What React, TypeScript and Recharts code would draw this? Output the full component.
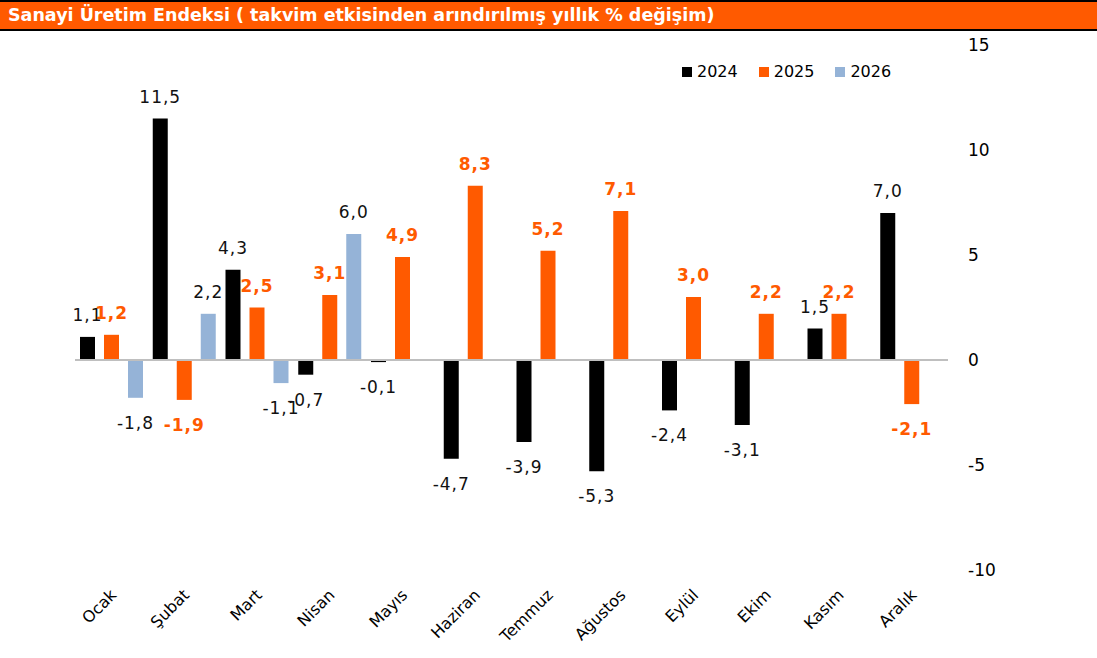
import { Bar, BarChart, ReferenceLine, XAxis, YAxis } from "recharts"

const months = ["Ocak", "Şubat", "Mart", "Nisan", "Mayıs", "Haziran", "Temmuz", "Ağustos", "Eylül", "Ekim", "Kasım", "Aralık"]
const values2024 = [1.1, 11.5, 4.3, -0.7, -0.1, -4.7, -3.9, -5.3, -2.4, -3.1, 1.5, 7.0]
const values2025 = [1.2, -1.9, 2.5, 3.1, 4.9, 8.3, 5.2, 7.1, 3.0, 2.2, 2.2, -2.1]
const values2026 = [-1.8, 2.2, -1.1, 6.0, null, null, null, null, null, null, null, null]
const yTicks = [-10, -5, 0, 5, 10, 15]

const BLACK = "#000000"
const ORANGE = "#FF5A00"
const BLUE = "#95B3D7"
const FONT = "'DejaVu Sans', Verdana, sans-serif"

const chartData = months.map((month, i) => ({
  month,
  y2024: values2024[i],
  y2025: values2025[i],
  y2026: values2026[i],
}))

const fmt = (v: number) => v.toFixed(1).replace(".", ",")

// label above positive bars, below negative ones
const makeLabel = (color: string, bold: boolean) => (props: any) => {
  const { x, y, width, height, value } = props
  if (value === null || value === undefined) return null
  const top = Math.min(y, y + height)
  const bottom = Math.max(y, y + height)
  const ty = value >= 0 ? top - 16 : bottom + 31
  return (
    <text
      x={x + width / 2}
      y={ty}
      textAnchor="middle"
      fill={color}
      fontSize={17}
      fontWeight={bold ? "bold" : "normal"}
      fontFamily={FONT}
      letterSpacing={1}
    >
      {fmt(value)}
    </text>
  )
}

const MonthTick = ({ x, payload }: any) => (
  <g transform={`translate(${x + 6},${596})`}>
    <text textAnchor="end" transform="rotate(-45)" fontSize={16} fontFamily={FONT} fill="#000">
      {payload.value}
    </text>
  </g>
)

const legendItems = [
  { name: "2024", color: BLACK },
  { name: "2025", color: ORANGE },
  { name: "2026", color: BLUE },
]

export default function App() {
  return (
    <div style={{ position: "fixed", top: 0, left: 0, width: 1097, height: 658, background: "#fff", overflow: "hidden" }}>
      <div
        style={{
          position: "absolute",
          top: 0,
          left: 0,
          width: 1097,
          height: 27,
          background: ORANGE,
          borderTop: "2px solid #000",
          borderBottom: "2px solid #000",
          color: "#fff",
          fontFamily: FONT,
          fontWeight: "bold",
          fontSize: 17.5,
          lineHeight: "27px",
          paddingLeft: 8,
          boxSizing: "content-box",
          zIndex: 2,
        }}
      >
        Sanayi Üretim Endeksi ( takvim etkisinden arındırılmış yıllık % değişim)
      </div>
      <div
        style={{
          position: "absolute",
          top: 62,
          left: 682,
          display: "flex",
          alignItems: "center",
          fontFamily: FONT,
          fontSize: 16,
          color: "#000",
          zIndex: 2,
        }}
      >
        {legendItems.map((item) => (
          <div key={item.name} style={{ display: "flex", alignItems: "center", marginRight: 21 }}>
            <span style={{ width: 10, height: 10, background: item.color, display: "inline-block", marginRight: 5 }} />
            <span>{item.name}</span>
          </div>
        ))}
      </div>
      <div style={{ position: "absolute", top: 0, left: 0 }}>
        <BarChart
          width={1097}
          height={658}
          data={chartData}
          margin={{ top: 45, right: 89, left: 75, bottom: 8 }}
          barGap={9}
          barCategoryGap={5}
        >
          <XAxis dataKey="month" axisLine={false} tickLine={false} interval={0} height={80} tick={<MonthTick />} />
          <YAxis
            orientation="right"
            domain={[-10, 15]}
            ticks={yTicks}
            axisLine={false}
            tickLine={false}
            tickMargin={14}
            width={60}
            tick={{ fontSize: 17, fontFamily: FONT, fill: "#000", textAnchor: "start" }}
          />
          <ReferenceLine y={0} stroke="#BFBFBF" strokeWidth={2} />
          <Bar dataKey="y2024" name="2024" fill={BLACK} isAnimationActive={false} label={makeLabel("#111", false)} />
          <Bar dataKey="y2025" name="2025" fill={ORANGE} isAnimationActive={false} label={makeLabel(ORANGE, true)} />
          <Bar dataKey="y2026" name="2026" fill={BLUE} isAnimationActive={false} label={makeLabel("#111", false)} />
        </BarChart>
      </div>
    </div>
  )
}
